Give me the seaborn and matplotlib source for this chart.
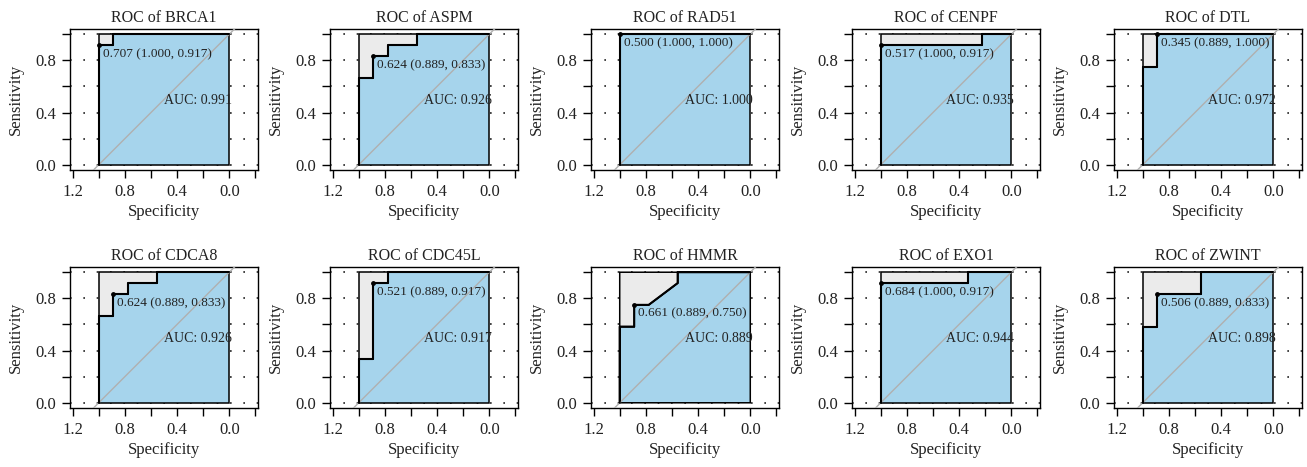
import numpy as np
import pandas as pd
import matplotlib
matplotlib.use("Agg")
import matplotlib.pyplot as plt
import seaborn as sns

# genes in panel order (row by row)
genes = ["BRCA1", "ASPM", "RAD51", "CENPF", "DTL",
         "CDCA8", "CDC45L", "HMMR", "EXO1", "ZWINT"]

# ROC curve vertices (specificity, sensitivity)
spec_curves = [
    [1.0, 1.0, 0.889, 0.889, 0.0],
    [1.0, 1.0, 0.889, 0.889, 0.778, 0.778, 0.556, 0.556, 0.0],
    [1.0, 1.0, 0.0],
    [1.0, 1.0, 0.222, 0.222, 0.0],
    [1.0, 1.0, 0.889, 0.889, 0.0],
    [1.0, 1.0, 0.889, 0.889, 0.778, 0.778, 0.556, 0.556, 0.0],
    [1.0, 1.0, 0.889, 0.889, 0.778, 0.778, 0.0],
    [1.0, 1.0, 0.889, 0.889, 0.778, 0.556, 0.556, 0.0],
    [1.0, 1.0, 0.333, 0.333, 0.0],
    [1.0, 1.0, 0.889, 0.889, 0.556, 0.556, 0.0],
]
sens_curves = [
    [0.0, 0.917, 0.917, 1.0, 1.0],
    [0.0, 0.667, 0.667, 0.833, 0.833, 0.917, 0.917, 1.0, 1.0],
    [0.0, 1.0, 1.0],
    [0.0, 0.917, 0.917, 1.0, 1.0],
    [0.0, 0.75, 0.75, 1.0, 1.0],
    [0.0, 0.667, 0.667, 0.833, 0.833, 0.917, 0.917, 1.0, 1.0],
    [0.0, 0.333, 0.333, 0.917, 0.917, 1.0, 1.0],
    [0.0, 0.583, 0.583, 0.75, 0.75, 0.917, 1.0, 1.0],
    [0.0, 0.917, 0.917, 1.0, 1.0],
    [0.0, 0.583, 0.583, 0.833, 0.833, 1.0, 1.0],
]

# best threshold and its (specificity, sensitivity)
thresholds = [0.707, 0.624, 0.500, 0.517, 0.345, 0.624, 0.521, 0.661, 0.684, 0.506]
thr_spec = [1.000, 0.889, 1.000, 1.000, 0.889, 0.889, 0.889, 0.889, 1.000, 0.889]
thr_sens = [0.917, 0.833, 1.000, 0.917, 1.000, 0.833, 0.917, 0.750, 0.917, 0.833]
aucs = [0.991, 0.926, 1.000, 0.935, 0.972, 0.926, 0.917, 0.889, 0.944, 0.898]

x_ticks = [1.2, 1.0, 0.8, 0.6, 0.4, 0.2, 0.0, -0.2]
x_labels = ["1.2", "", "0.8", "", "0.4", "", "0.0", ""]
y_ticks = [0.0, 0.2, 0.4, 0.6, 0.8, 1.0]
y_labels = ["0.0", "", "0.4", "", "0.8", ""]

sns.set_style("ticks")
plt.rcParams["font.family"] = ["Liberation Serif", "DejaVu Serif"]
plt.rcParams["font.size"] = 12
plt.rcParams["text.color"] = "#222222"
plt.rcParams["axes.labelcolor"] = "#222222"
plt.rcParams["xtick.color"] = "black"
plt.rcParams["ytick.color"] = "black"
plt.rcParams["xtick.labelcolor"] = "#222222"
plt.rcParams["ytick.labelcolor"] = "#222222"

W, H = 1307, 467
fig = plt.figure(figsize=(W / 100, H / 100), dpi=100)

col_left = [70, 330, 591, 852, 1114]
row_top = [29, 267]
pw, ph = 188, 141

blue = "#a6d4ec"
grey = "#ebebeb"

for i, gene in enumerate(genes):
    r, c = divmod(i, 5)
    ax = fig.add_axes([col_left[c] / W, 1 - (row_top[r] + ph) / H, pw / W, ph / H])

    # dotted horizontal grid
    for yv in y_ticks:
        ax.axhline(yv, color="#222222", lw=1.2, linestyle=(0, (1, 7)), zorder=0)

    df = pd.DataFrame({"spec": spec_curves[i], "sens": sens_curves[i]})
    under = list(zip(df.spec, df.sens)) + [(0.0, 0.0)]
    over = list(zip(df.spec, df.sens)) + [(1.0, 1.0)]
    ax.fill(*zip(*under), facecolor=blue, edgecolor="black", lw=1.1, zorder=2)
    ax.fill(*zip(*over), facecolor=grey, edgecolor="black", lw=1.1, zorder=2)
    # diagonal reference line
    ax.plot([1.3, -0.3], [-0.3, 1.3], color="#b0b0b0", lw=1.0, zorder=3)

    sns.lineplot(data=df, x="spec", y="sens", sort=False, estimator=None,
                 color="black", lw=1.5, ax=ax, zorder=4)

    ax.scatter([thr_spec[i]], [thr_sens[i]], s=6, color="black", zorder=5)
    ax.annotate(f"{thresholds[i]:.3f} ({thr_spec[i]:.3f}, {thr_sens[i]:.3f})",
                xy=(thr_spec[i], thr_sens[i]), xytext=(3, -2),
                textcoords="offset points", ha="left", va="top",
                fontsize=9.5, zorder=6)
    ax.text(0.5, 0.49, f"AUC: {aucs[i]:.3f}", ha="left", va="center",
            fontsize=10, zorder=6)

    ax.set_xlim(1.22, -0.22)
    ax.set_ylim(-0.04, 1.04)
    ax.set_xticks(x_ticks)
    ax.set_xticklabels(x_labels)
    ax.set_yticks(y_ticks)
    ax.set_yticklabels(y_labels)
    ax.tick_params(direction="out", length=6, width=1.0, pad=4, labelsize=12)
    for s in ax.spines.values():
        s.set_visible(True)
        s.set_color("black")
        s.set_linewidth(1.0)
    ax.set_title(f"ROC of {gene}", fontsize=11.5, pad=5)
    ax.set_xlabel("Specificity", labelpad=3)
    ax.set_ylabel("Sensitivity", labelpad=8)

fig.savefig("out.png", dpi=100)
